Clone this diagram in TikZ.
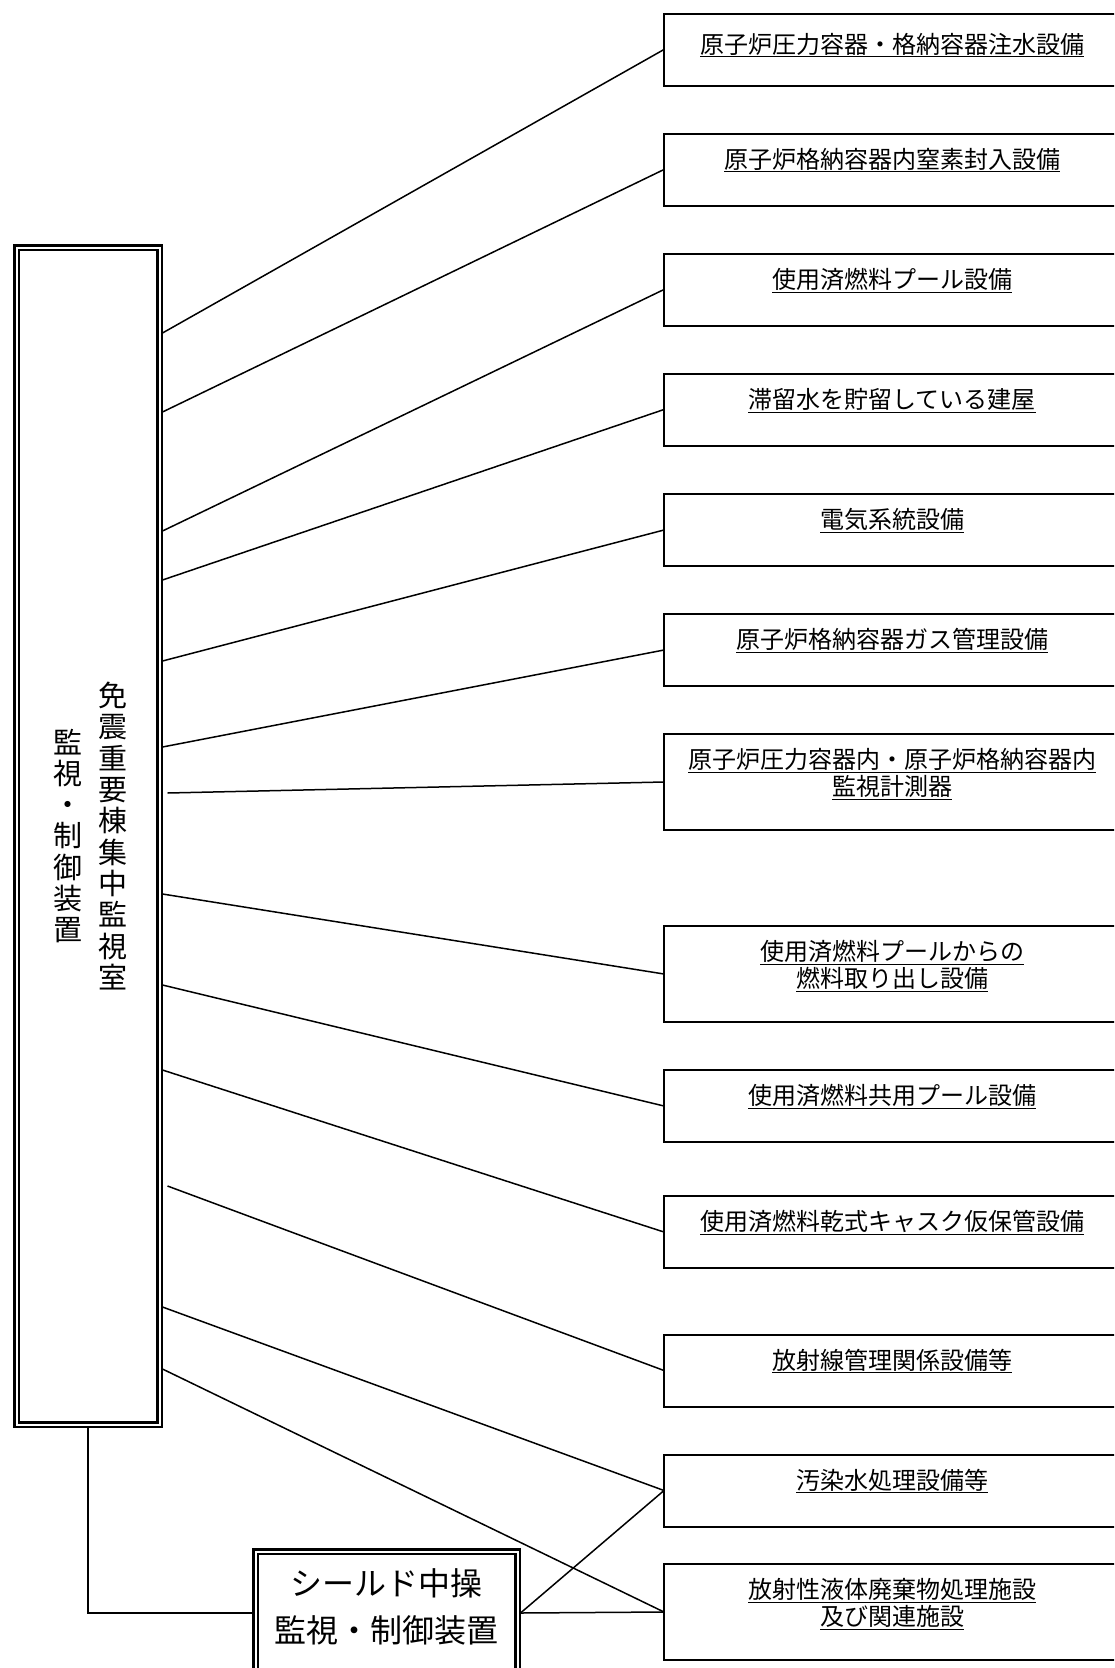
\documentclass[tikz,border=0pt]{standalone}
\usepackage{fontspec}
\setmainfont{Noto Sans CJK JP}
\begin{document}
\begin{tikzpicture}[x=1pt,y=-1pt,
	every node/.style={inner sep=0pt,outer sep=0pt},
	eq/.style={draw=black,line width=2pt,minimum width=456pt,minimum height=72pt,align=center,font=\fontsize{24}{27}\selectfont,text depth=23pt},
	eqq/.style={eq,minimum height=96pt,text depth=20pt},
	dbl/.style={draw=black,line width=2.5pt,double,double distance=2pt,outer sep=3pt},
	vcol/.style={align=center,font=\fontsize{29}{31.3}\selectfont},
	link/.style={line width=1.5pt}]

	\useasboundingbox (0,0) rectangle (1114,1668);
	\clip (0,0) rectangle (1114,1668);

	% control rooms
	\node[dbl,minimum width=143pt,minimum height=1177pt] (m) at (88,836) {};
	\node[vcol] (m1) at ([xshift=25pt]m.center) {免\\震\\重\\要\\棟\\集\\中\\監\\視\\室};
	\node[vcol] (m2) at ([xshift=-20pt]m.center) {監\\視\\・\\制\\御\\装\\置};
	\node[dbl,minimum width=262pt,minimum height=123pt,align=center,font=\fontsize{32}{47}\selectfont,text depth=15pt] (s) at (386.5,1613) {シールド中操\\監視・制御装置};

	% equipment
	\node[eq,text depth=13pt] (e1) at (892,49.5) {\underline{原子炉圧力容器・格納容器注水設備}};
	\node[eq] (e2) at (892,169.5) {\underline{原子炉格納容器内窒素封入設備}};
	\node[eq] (e3) at (892,289.5) {\underline{使用済燃料プール設備}};
	\node[eq] (e4) at (892,409.5) {\underline{滞留水を貯留している建屋}};
	\node[eq] (e5) at (892,530) {\underline{電気系統設備}};
	\node[eq] (e6) at (892,650) {\underline{原子炉格納容器ガス管理設備}};
	\node[eqq] (e7) at (892,782) {\underline{原子炉圧力容器内・原子炉格納容器内}\\\underline{監視計測器}};
	\node[eqq] (e8) at (892,974) {\underline{使用済燃料プールからの}\\\underline{燃料取り出し設備}};
	\node[eq] (e9) at (892,1106) {\underline{使用済燃料共用プール設備}};
	\node[eq] (e10) at (892,1232) {\underline{使用済燃料乾式キャスク仮保管設備}};
	\node[eq] (e11) at (892,1370.5) {\underline{放射線管理関係設備等}};
	\node[eq] (e12) at (892,1490.5) {\underline{汚染水処理設備等}};
	\node[eqq] (e13) at (892,1612) {\underline{放射性液体廃棄物処理施設}\\\underline{及び関連施設}};

	% ends on the monitoring room
	\coordinate (c1) at (m.east |- 0,333);
	\coordinate (c2) at (m.east |- 0,412);
	\coordinate (c3) at (m.east |- 0,531);
	\coordinate (c4) at (m.east |- 0,580);
	\coordinate (c5) at (m.east |- 0,661);
	\coordinate (c6) at (m.east |- 0,747);
	\coordinate[xshift=5pt] (c7) at (m.east |- 0,793);
	\coordinate (c8) at (m.east |- 0,894);
	\coordinate (c9) at (m.east |- 0,985);
	\coordinate (c10) at (m.east |- 0,1070);
	\coordinate[xshift=5pt] (c11) at (m.east |- 0,1186);
	\coordinate (c12) at (m.east |- 0,1307);
	\coordinate (c13) at (m.east |- 0,1369);

	\draw[link] (c1) -- (e1.west);
	\draw[link] (c2) -- (e2.west);
	\draw[link] (c3) -- (e3.west);
	\draw[link] (c4) -- (e4.west);
	\draw[link] (c5) -- (e5.west);
	\draw[link] (c6) -- (e6.west);
	\draw[link] (c7) -- (e7.west);
	\draw[link] (c8) -- (e8.west);
	\draw[link] (c9) -- (e9.west);
	\draw[link] (c10) -- (e10.west);
	\draw[link] (c11) -- (e11.west);
	\draw[link] (c12) -- (e12.west);
	\draw[link] (c13) -- (e13.west);

	\draw[link] (m.south) |- (s.west);
	\draw[link] (s.east) -- (e12.west);
	\draw[link] (s.east) -- (e13.west);
\end{tikzpicture}
\end{document}
